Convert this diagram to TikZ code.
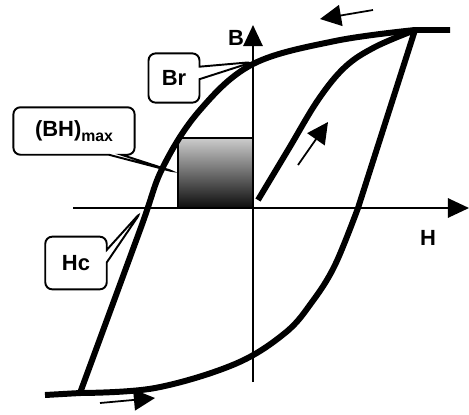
\documentclass[tikz,border=0pt]{standalone}
\usepackage{fontspec}
\setmainfont{Liberation Sans}
\usetikzlibrary{shapes.callouts, arrows.meta}
\tikzset{
    % thick curves of the loop
    loop curve/.style={
        line width=3.4pt,
        black,
        line join=round
    },
    axis style/.style={
        -{Triangle[length=12pt,width=11pt]},
        line width=1.1pt,
        black
    },
    flow arrow/.style={
        -{Triangle[length=12pt,width=12pt]},
        line width=1pt,
        black
    },
    label box/.style={
        rectangle callout,
        draw=black,
        fill=white,
        line width=1.1pt,
        rounded corners=4pt,
        inner sep=0pt,
        align=center,
        font=\fontsize{12.5}{14}\selectfont\bfseries
    },
    axis label/.style={
        font=\fontsize{12.5}{14}\selectfont\bfseries
    }
}

\begin{document}
\begin{tikzpicture}[x=0.02cm, y=-0.02cm]
        \useasboundingbox (0,0) rectangle (469,414);

        % Shaded (BH)max area
        \shade[top color=gray!40, bottom color=black!95, draw=black, line width=1pt] (178,138) rectangle (253,208);

        % Axes
        \coordinate (hstart) at (73,208);
        \coordinate (hend) at (469,208);
        \coordinate (bstart) at (253,382);
        \coordinate (bend) at (253,25);
        \draw[axis style] (hstart) -- (hend);
        \draw[axis style] (bstart) -- (bend);
        \node[axis label] (blabel) at (236,38) {B};
        \node[axis label] (hlabel) at (428,238) {H};

        % Upper branch
        \draw[loop curve] (450,30) -- plot[smooth, tension=0.6] coordinates {
            (415,30) (335,41) (253,64) (200,110) (163,167) (140,230) (80,393)
        } -- (45,395);

        % Lower branch
        \draw[loop curve] plot[smooth, tension=0.6] coordinates {
            (80,393) (155,388) (235,364) (285,333) (312,302) (335,265) (358,208)
        } -- (415,30);

        % Initial magnetization curve
        \draw[loop curve] plot[smooth, tension=0.6] coordinates {
            (258,200) (288,150) (318,100) (345,67) (375,47) (415,30)
        };

        % Direction arrows
        \coordinate (topfrom) at (373,10);
        \coordinate (topto) at (320,19);
        \coordinate (midfrom) at (298,165);
        \coordinate (midto) at (328,122);
        \coordinate (lowfrom) at (100,403);
        \coordinate (lowto) at (155,398);
        \draw[flow arrow] (topfrom) -- (topto);
        \draw[flow arrow] (midfrom) -- (midto);
        \draw[flow arrow] (lowfrom) -- (lowto);

        % Callouts
        \coordinate (brpoint) at (253,62);
        \coordinate (bhpoint) at (175,172);
        \coordinate (hcpoint) at (141,212);
        \node[label box, minimum width=29pt, minimum height=28pt, callout absolute pointer={(brpoint)}] (br) at (174,78) {Br};
        \node[label box, minimum width=69pt, minimum height=27pt, callout absolute pointer={(bhpoint)}] (bhmax) at (74,131) {(BH)\raisebox{-0.45ex}{\fontsize{9}{10}\selectfont max}};
        \node[label box, minimum width=35pt, minimum height=30pt, callout absolute pointer={(hcpoint)}] (hc) at (76,263) {Hc};
    \end{tikzpicture}
\end{document}
